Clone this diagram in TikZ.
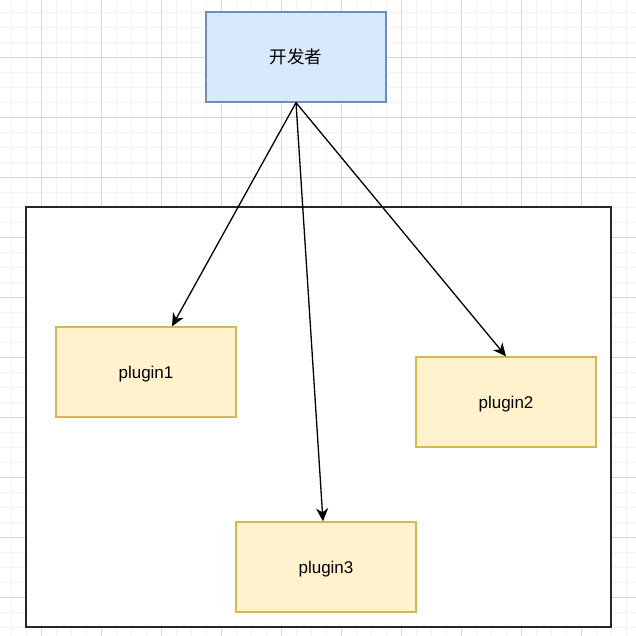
\documentclass[tikz,border=0pt]{standalone}
\usepackage{fontspec}
\setmainfont{Liberation Sans}
\newfontfamily\cjk{Noto Sans CJK SC}
\usetikzlibrary{arrows.meta}

\definecolor{devfill}{HTML}{DAE8FC}
\definecolor{devline}{HTML}{6C8EBF}
\definecolor{plugfill}{HTML}{FFF2CC}
\definecolor{plugline}{HTML}{D6B656}

\begin{document}
\begin{tikzpicture}[x=1pt, y=-1pt, font=\fontsize{17}{20}\selectfont,
	link/.style={-{Stealth[length=13pt,width=12pt,inset=4pt]}, line width=1.3pt},
	minorline/.style={black!5, line width=0.8pt},
	majorline/.style={black!15, line width=0.8pt},
	devbox/.style={draw=devline, fill=devfill, line width=1.3pt, minimum width=180pt, minimum height=90pt, inner sep=0pt},
	pluginbox/.style={draw=plugline, fill=plugfill, line width=1.3pt, minimum width=180pt, minimum height=90pt, inner sep=0pt, text depth=0pt},
	frame/.style={draw=black!85, fill=white, line width=1.6pt, minimum width=585pt, minimum height=420pt, inner sep=0pt}]
	\useasboundingbox[fill=white] (0,0) rectangle (636,636);

	% background grid
	\foreach \k in {0,...,41} {
		\draw[minorline] (11.3+15*\k,0) -- (11.3+15*\k,636);
		\draw[minorline] (0,12.3+15*\k) -- (636,12.3+15*\k);
	}
	\foreach \k in {0,...,9} {
		\draw[majorline] (41.3+60*\k,0) -- (41.3+60*\k,636);
		\draw[majorline] (0,57.3+60*\k) -- (636,57.3+60*\k);
	}

	\node[frame] (box) at (318.5,417) {};
	\node[devbox] (dev) at (296,57) {\cjk\fontsize{17.5}{20}\selectfont 开发者};
	\node[pluginbox] (plugin1) at (146,372) {plugin1};
	\node[pluginbox] (plugin2) at (506,402) {plugin2};
	\node[pluginbox] (plugin3) at (326,567) {plugin3};

	\draw[link] (dev.south) -- ([xshift=26pt]plugin1.north);
	\draw[link] (dev.south) -- (plugin2.north);
	\draw[link] (dev.south) -- ([xshift=-3pt]plugin3.north);
\end{tikzpicture}
\end{document}
